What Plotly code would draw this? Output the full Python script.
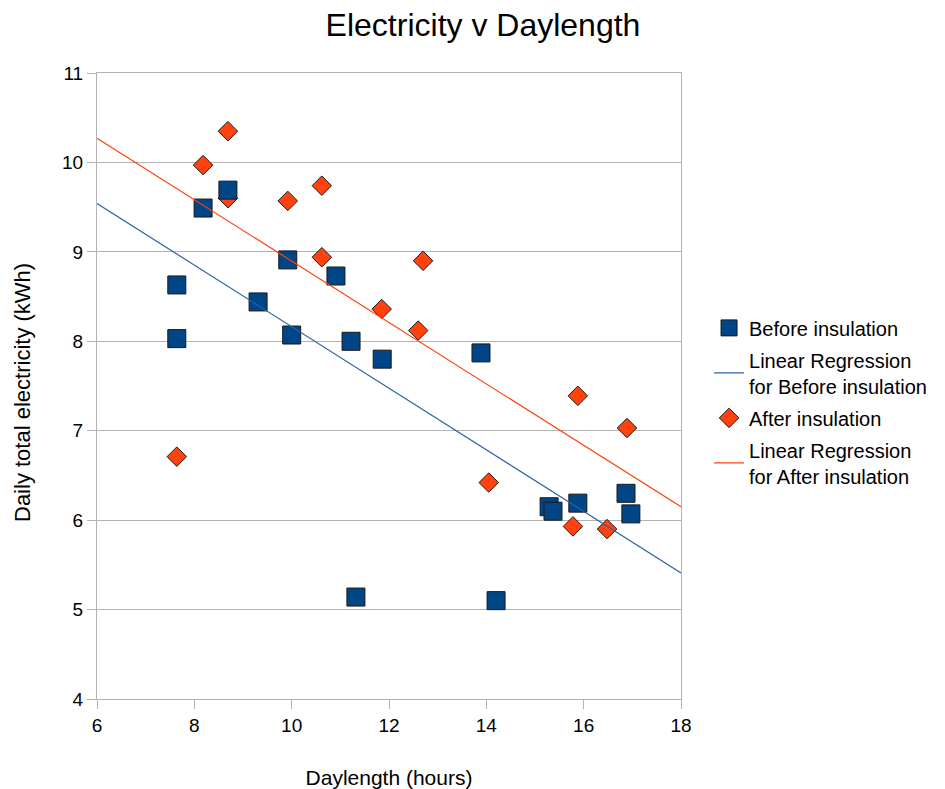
import plotly.graph_objects as go

# Before insulation (squares)
before_x = [7.64, 7.64, 8.18, 8.69, 9.31, 9.92, 10.00, 10.91, 11.22, 11.86, 11.32, 13.89, 14.20, 15.29, 15.37, 15.88, 16.87, 16.97]
before_y = [8.63, 8.03, 9.49, 9.69, 8.44, 8.91, 8.07, 8.73, 8.00, 7.80, 5.14, 7.87, 5.10, 6.15, 6.10, 6.19, 6.30, 6.07]

# After insulation (diamonds)
after_x = [7.64, 8.18, 8.69, 8.69, 9.92, 10.62, 10.62, 11.85, 12.70, 12.60, 14.05, 15.88, 15.78, 16.48, 16.89]
after_y = [6.71, 9.97, 10.35, 9.60, 9.57, 9.74, 8.94, 8.36, 8.90, 8.12, 6.42, 7.39, 5.93, 5.90, 7.03]

# Regression lines (endpoints)
reg_x = [6, 18]
before_reg_y = [9.54, 5.41]
after_reg_y = [10.27, 6.15]

FONT = "Liberation Sans, Arial, sans-serif"
BLUE = "#004586"
ORANGE = "#ff420e"

# page body has an 8px default margin; compensate so the plot lands where intended
OFF = 8

fig = go.Figure()
fig.add_trace(go.Scatter(
    x=after_x, y=after_y, mode="markers", name="After insulation",
    legendrank=3, legendgroup="c",
    marker=dict(symbol="diamond", size=15, color=ORANGE, line=dict(color="#1a1a1a", width=1)),
))
fig.add_trace(go.Scatter(
    x=before_x, y=before_y, mode="markers", name="Before insulation",
    legendrank=1, legendgroup="a",
    marker=dict(symbol="square", size=18, color=BLUE, line=dict(color="#1a1a1a", width=1)),
))
fig.add_trace(go.Scatter(
    x=reg_x, y=after_reg_y, mode="lines", name="Linear Regression<br>for After insulation",
    legendrank=4, legendgroup="d",
    line=dict(color=ORANGE, width=1.2),
))
fig.add_trace(go.Scatter(
    x=reg_x, y=before_reg_y, mode="lines", name="Linear Regression<br>for Before insulation",
    legendrank=2, legendgroup="b",
    line=dict(color="#2a62a8", width=1.2),
))

fig.update_layout(
    width=945, height=789,
    paper_bgcolor="white", plot_bgcolor="white",
    margin=dict(l=97 - OFF, r=945 - 681 + OFF, t=73 - OFF, b=789 - 699 + OFF),
    font=dict(family=FONT, color="black", size=19),
    title=dict(text="Electricity v Daylength", x=(483 - OFF) / 945, xanchor="center", xref="container",
               y=1 - (25 - OFF) / 789, yanchor="middle", yref="container",
               font=dict(size=32, family=FONT, color="black")),
    showlegend=True,
    legend=dict(x=1.048, y=0.624, xanchor="left", yanchor="top",
                font=dict(size=20, family=FONT, color="black"),
                traceorder="grouped", bgcolor="rgba(0,0,0,0)", tracegroupgap=3),
    annotations=[dict(
        text="Daily total electricity (kWh)", textangle=-90,
        xref="paper", yref="paper",
        x=(22 - 97) / 584, y=(699 - 392) / 626,
        xanchor="center", yanchor="middle", showarrow=False,
        font=dict(size=22, family=FONT, color="black"),
    )],
)
fig.update_xaxes(
    range=[6, 18], dtick=2, tick0=6,
    showgrid=False, showline=True, linecolor="#b3b3b3", linewidth=1, mirror=True,
    ticks="outside", ticklen=9, tickcolor="#b3b3b3",
    tickfont=dict(size=19, family=FONT, color="black"),
    title=dict(text="Daylength (hours)", font=dict(size=21, family=FONT, color="black"), standoff=35),
    zeroline=False, automargin=False,
)
fig.update_yaxes(
    range=[4, 11], dtick=1,
    showgrid=True, gridcolor="#b3b3b3", gridwidth=1,
    showline=True, linecolor="#b3b3b3", linewidth=1, mirror=True,
    ticks="outside", ticklen=9, tickcolor="#b3b3b3",
    tickfont=dict(size=19, family=FONT, color="black"),
    zeroline=False, automargin=False,
)

fig.write_html("out.html")
